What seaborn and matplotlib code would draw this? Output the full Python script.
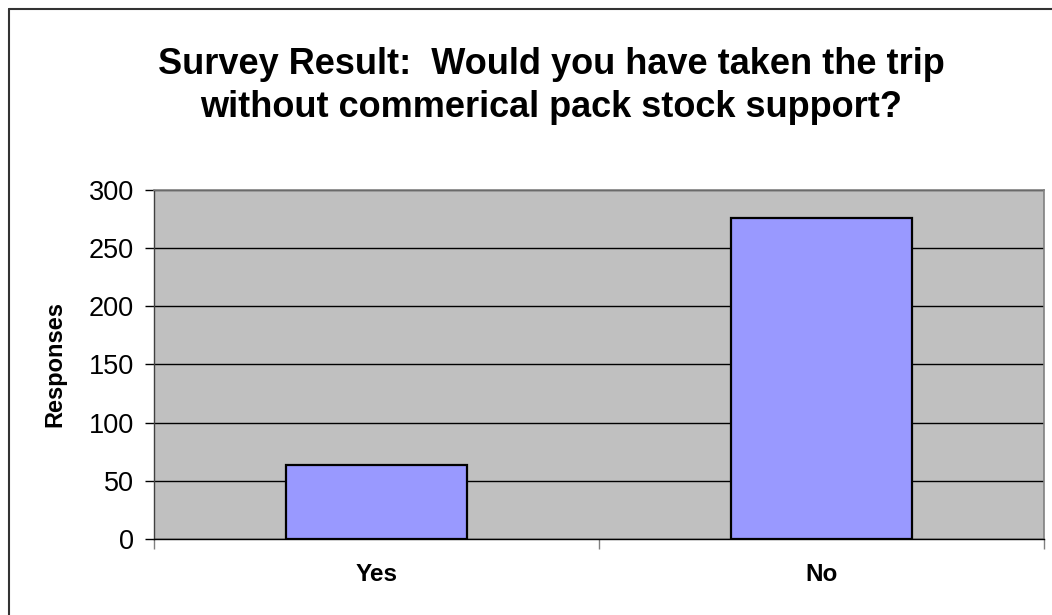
import matplotlib
matplotlib.use("Agg")
import matplotlib.pyplot as plt
from matplotlib.lines import Line2D
from matplotlib.ticker import FixedLocator
import seaborn as sns
import pandas as pd

# Survey answers and response counts
answers = ["Yes", "No"]
responses = [64, 276]
y_ticks = [0, 50, 100, 150, 200, 250, 300]

title_text = "Survey Result:  Would you have taken the trip\nwithout commerical pack stock support?"
y_label = "Responses"

sns.set_theme(style="white")
plt.rcParams["font.family"] = ["Liberation Sans", "DejaVu Sans"]
plt.rcParams.update({
    "text.color": "black",
    "axes.labelcolor": "black",
    "xtick.color": "black",
    "ytick.color": "black",
})

df = pd.DataFrame({"answer": answers, "responses": responses})

fig = plt.figure(figsize=(10.52, 6.15), dpi=100)
ax = fig.add_axes([154 / 1052, 1 - 539.3 / 615, 890 / 1052, 349.6 / 615])
ax.set_facecolor("#C0C0C0")

sns.barplot(data=df, x="answer", y="responses", color="#9999FF",
            width=0.407, saturation=1, edgecolor="black", linewidth=1.6,
            ax=ax, zorder=3)

ax.set_xlim(-0.5, 1.5)
ax.set_ylim(0, 300)
ax.set_yticks(y_ticks)
ax.set_yticklabels([str(v) for v in y_ticks], fontsize=19.5)
ax.yaxis.grid(True, color="black", linewidth=1.0, zorder=1)
ax.set_axisbelow(True)

# Category tick marks sit between the bars
ax.xaxis.set_minor_locator(FixedLocator([-0.5, 0.5, 1.5]))
ax.tick_params(axis="x", which="major", length=0, pad=17, labelsize=17.5)
ax.tick_params(axis="x", which="minor", length=7, width=1, color="#808080",
               direction="out", bottom=True)
ax.tick_params(axis="y", which="major", length=6.5, width=1, color="black",
               direction="out", left=True, pad=8)
for lbl in ax.get_xticklabels():
    lbl.set_fontweight("bold")

ax.set_xlabel("")
ax.set_ylabel(y_label, fontsize=17, fontweight="bold", labelpad=16)

for side in ["top", "right"]:
    ax.spines[side].set_color("#808080")
    ax.spines[side].set_linewidth(1.2)
for side in ["left", "bottom"]:
    ax.spines[side].set_color("black")
    ax.spines[side].set_linewidth(1.0)
ax.spines["left"].set_color("#404040")

fig.text(551 / 1052, 1 - 86 / 615, title_text, ha="center", va="center",
         fontsize=26, fontweight="bold", linespacing=1.27)

# Chart frame along the top and left edges
fig.add_artist(Line2D([8.5 / 1052, 8.5 / 1052], [0, 1 - 9 / 615],
                      transform=fig.transFigure, color="#333333", linewidth=1.5))
fig.add_artist(Line2D([8.5 / 1052, 1], [1 - 9 / 615, 1 - 9 / 615],
                      transform=fig.transFigure, color="#333333", linewidth=1.5))

fig.savefig("out.png", dpi=100, facecolor="white")
